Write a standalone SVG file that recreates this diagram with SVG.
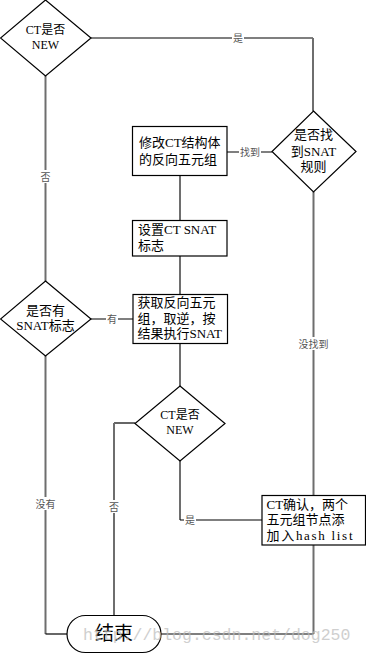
<svg xmlns="http://www.w3.org/2000/svg" width="366" height="654" viewBox="0 0 366 654">
<style>
.shape{fill:#fff;stroke:#000;stroke-width:1.2}
.v{fill:none;stroke:#6e6e6e;stroke-width:2}
.h{fill:none;stroke:#000;stroke-width:1.2}
.t{font-family:"Liberation Serif","Noto Sans CJK SC",serif;font-size:13px;fill:#000}
.c{text-anchor:middle}
.lb{font-family:"Liberation Serif","Noto Sans CJK SC",serif;font-size:10px;fill:#555;text-anchor:middle}
.lbg{fill:#fff}
</style>
<rect width="366" height="654" fill="#fff"/>
<g id="connectors">
<polyline class="h" points="91,38 313,38"/>
<polyline class="v" points="313,38 313,111"/>
<polyline class="v" points="45.5,76 45.5,281"/>
<polyline class="h" points="227,152 272,152"/>
<polyline class="v" points="180,175 180,220"/>
<polyline class="v" points="180,256 180,294"/>
<polyline class="h" points="91,319 133,319"/>
<polyline class="v" points="180,343 180,386"/>
<polyline class="v" points="313.5,192 313.5,495"/>
<polyline class="h" points="135,423 114,423"/>
<polyline class="v" points="114,423 114,615"/>
<polyline class="v" points="180,461 180,520"/>
<polyline class="h" points="180,520 262,520"/>
<polyline class="v" points="313.5,545 313.5,634"/>
<polyline class="h" points="313.5,634 161,634"/>
<polyline class="v" points="45.5,356 45.5,634"/>
<polyline class="h" points="45.5,634 67,634"/>
<rect class="lbg" x="232" y="31" width="12" height="13"/><text class="lb" x="238" y="42">是</text>
<rect class="lbg" x="239" y="145" width="22" height="13"/><text class="lb" x="250" y="156">找到</text>
<rect class="lbg" x="39" y="170" width="12" height="13"/><text class="lb" x="45.5" y="181">否</text>
<rect class="lbg" x="106" y="312" width="12" height="13"/><text class="lb" x="112" y="323">有</text>
<rect class="lbg" x="297" y="337" width="33" height="13"/><text class="lb" x="313.5" y="348">没找到</text>
<rect class="lbg" x="35" y="497" width="22" height="13"/><text class="lb" x="45.5" y="508">没有</text>
<rect class="lbg" x="108" y="500" width="12" height="13"/><text class="lb" x="114" y="511">否</text>
<rect class="lbg" x="184" y="513" width="12" height="13"/><text class="lb" x="190" y="524">是</text>
</g>
<g id="d1">
<polygon class="shape" points="45.5,0 91,38 45.5,76 0.5,38"/>
<text class="t c" x="45.5" y="34" style="font-size:12px">CT是否</text>
<text class="t c" x="45.5" y="49" style="font-size:12px">NEW</text>
</g>
<g id="d2">
<polygon class="shape" points="313.5,111 356,151.5 313.5,192 272,151.5"/>
<text class="t c" x="313.5" y="139">是否找</text>
<text class="t c" x="313.5" y="156">到SNAT</text>
<text class="t c" x="313.5" y="171">规则</text>
</g>
<g id="b1">
<rect class="shape" x="132.5" y="126.5" width="94.5" height="49"/>
<text class="t" x="139" y="147">修改CT结构体</text>
<text class="t" x="139" y="164">的反向五元组</text>
</g>
<g id="b2">
<rect class="shape" x="132.5" y="220.5" width="94.5" height="35.5"/>
<text class="t" x="138" y="234">设置CT SNAT</text>
<text class="t" x="138" y="250">标志</text>
</g>
<g id="b3">
<rect class="shape" x="133" y="294.5" width="94.5" height="49"/>
<text class="t" x="137.5" y="307">获取反向五元</text>
<text class="t" x="137.5" y="323">组，取逆，按</text>
<text class="t" x="137.5" y="338">结果执行SNAT</text>
</g>
<g id="d3">
<polygon class="shape" points="45.5,281 91,319 45.5,356 0.5,319"/>
<text class="t c" x="45.5" y="315">是否有</text>
<text class="t c" x="45.5" y="330">SNAT标志</text>
</g>
<g id="d4">
<polygon class="shape" points="180,386 225,423.5 180,461 135,423.5"/>
<text class="t c" x="180" y="419" style="font-size:12px">CT是否</text>
<text class="t c" x="180" y="434" style="font-size:12px">NEW</text>
</g>
<g id="b4">
<rect class="shape" x="262" y="495.5" width="103.5" height="49.5"/>
<text class="t" x="266.5" y="509">CT确认，两个</text>
<text class="t" x="266.5" y="524">五元组节点添</text>
<text class="t" x="266.5" y="540" textLength="86" lengthAdjust="spacing">加入hash list</text>
</g>
<g id="end">
<rect class="shape" x="67" y="615.5" width="94" height="37" rx="18.5" ry="18.5"/>
<text class="t c" x="114" y="640" style="font-size:19px">结束</text>
</g>
<text x="83" y="640" style="font-family:'Liberation Mono',monospace;font-size:16.5px;fill:#bbb;opacity:0.7">http://blog.csdn.net/dog250</text>
</svg>
